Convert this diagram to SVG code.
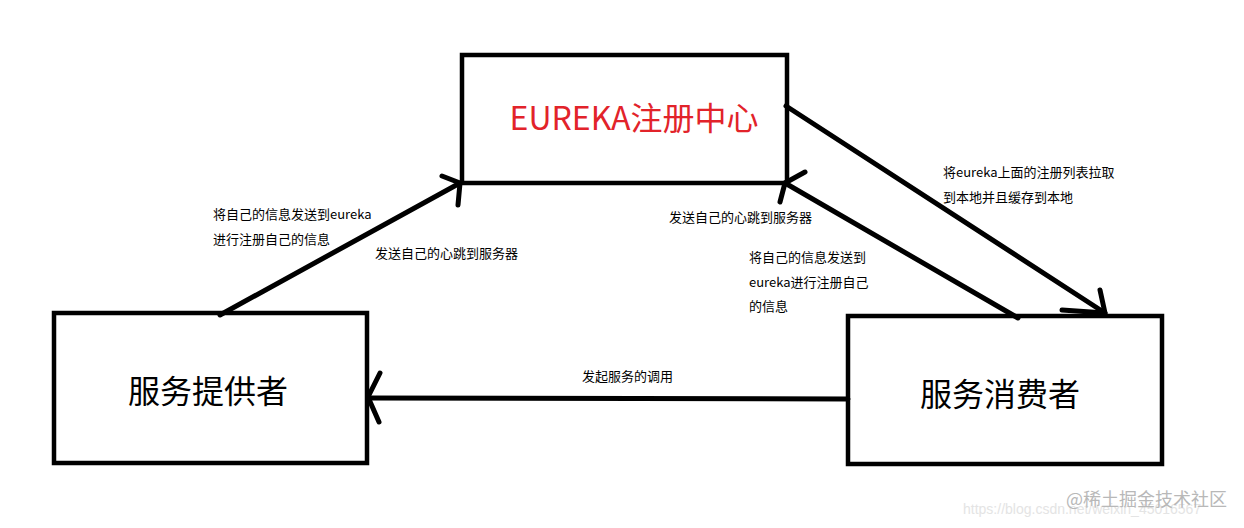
<svg xmlns="http://www.w3.org/2000/svg" width="1244" height="528" viewBox="0 0 1244 528">
<style>
.box{fill:#fff;stroke:#000;stroke-width:4.5}
.ln{fill:none;stroke:#000;stroke-width:5;stroke-linecap:round;stroke-linejoin:round}
.big{font-family:"Noto Sans CJK SC","Noto Sans",sans-serif;font-size:32px;fill:#000}
.red{fill:#e2232a}
.lbl{font-family:"Noto Sans CJK SC","Noto Sans",sans-serif;font-size:13px;fill:#000}
.wm{font-family:"Noto Sans CJK SC","Noto Sans",sans-serif;font-size:18px;fill:#b8b8b8}
.wm2{font-family:"Liberation Sans",sans-serif;font-size:14px;fill:#e4e4e4}
</style>
<rect width="1244" height="528" fill="#fff"/>
<g id="eureka">
<rect class="box" x="462" y="55" width="325" height="128"/>
<text class="big red" x="634" y="130" text-anchor="middle">EUREKA注册中心</text>
</g>
<g id="provider">
<rect class="box" x="54" y="313" width="313" height="150"/>
<text class="big" x="208" y="403" text-anchor="middle">服务提供者</text>
</g>
<g id="consumer">
<rect class="box" x="848" y="316" width="314" height="148"/>
<text class="big" x="1000" y="406" text-anchor="middle">服务消费者</text>
</g>
<g id="connectors">
<path class="ln" d="M220 315 L460 183"/>
<path class="ln" d="M442 176 L460 183 L458 205"/>
<path class="ln" d="M1018 318 L785 183"/>
<path class="ln" d="M805 172 L785 183 L780 202"/>
<path class="ln" d="M786 106 L1105 313"/>
<path class="ln" d="M1100 290 L1105 313 L1062 310"/>
<path class="ln" d="M848 399 L368 398"/>
<path class="ln" d="M380 373 L368 397 L379 422"/>
</g>
<g id="labels">
<text class="lbl" x="213" y="219">将自己的信息发送到eureka</text>
<text class="lbl" x="213" y="244">进行注册自己的信息</text>
<text class="lbl" x="375" y="258">发送自己的心跳到服务器</text>
<text class="lbl" x="669" y="222">发送自己的心跳到服务器</text>
<text class="lbl" x="943" y="177">将eureka上面的注册列表拉取</text>
<text class="lbl" x="943" y="202">到本地并且缓存到本地</text>
<text class="lbl" x="749" y="262">将自己的信息发送到</text>
<text class="lbl" x="749" y="287">eureka进行注册自己</text>
<text class="lbl" x="749" y="311">的信息</text>
<text class="lbl" x="582" y="381">发起服务的调用</text>
</g>
<g id="watermark">
<text class="wm2" x="963" y="514">https://blog.csdn.net/weixin_45016567</text>
<text class="wm" x="1066" y="506">@稀土掘金技术社区</text>
</g>
</svg>
